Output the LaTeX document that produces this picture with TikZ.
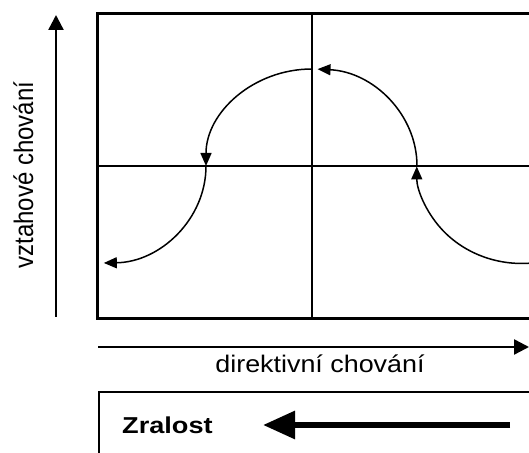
\documentclass[tikz,border=0pt]{standalone}
\usepackage{fontspec}
\setmainfont{Liberation Sans}
\usetikzlibrary{arrows.meta}
\begin{document}
\begin{tikzpicture}[x=1pt,y=1pt,
  frame/.style={line width=3pt},
  midv/.style={line width=2.6pt},
  midh/.style={line width=2pt},
  axis/.style={line width=2.4pt,-{Triangle[length=15pt,width=15pt]}},
  curve/.style={line width=1.5pt,-{Triangle[length=13pt,width=11pt]}},
  bigarrow/.style={line width=6pt,-{Triangle[length=32pt,width=27pt]}},
  lbl/.style={font=\fontsize{24}{28}\selectfont, inner sep=0pt}
]
\useasboundingbox (0,0) rectangle (529,452);
\clip (0,0) rectangle (529,452);
% main frame
\coordinate (TL) at (97,438);
\coordinate (BL) at (97,133);
\coordinate (TR) at (540,438);
\coordinate (BR) at (540,133);
\draw[frame] (TR) -- (TL) -- (BL) -- (BR);
% quadrant lines
\coordinate (VT) at (312,438);
\coordinate (VB) at (312,133);
\coordinate (HL) at (97,286);
\coordinate (HR) at (540,286);
\draw[midv] (VT) -- (VB);
\draw[midh] (HL) -- (HR);
% curve
\coordinate (C0) at (540,190);
\coordinate (X2) at (417,286);
\coordinate (Top) at (312,383);
\coordinate (X1) at (206,286);
\draw[curve] (C0) arc[start angle=-80, end angle=-180, x radius=105, y radius=97];
\draw[curve] (X2) arc[start angle=0, end angle=87, x radius=105, y radius=97];
\draw[curve] (Top) arc[start angle=90, end angle=180, x radius=106, y radius=97];
\draw[curve] (X1) arc[start angle=0, end angle=-89, x radius=104, y radius=97];
% axes
\coordinate (YA0) at (56,135);
\coordinate (YA1) at (56,437);
\draw[axis] (YA0) -- (YA1);
\coordinate (XA0) at (98,105);
\coordinate (XA1) at (529,105);
\draw[axis] (XA0) -- (XA1);
\node[lbl, rotate=90, anchor=base] (ylab) at (33,277) {\scalebox{1}[1.12]{vztahové chování}};
\node[lbl, anchor=base] (xlab) at (320,80) {\scalebox{1.12}[1]{direktivní chování}};
% bottom box
\coordinate (B0) at (99,-5);
\coordinate (B1) at (99,60);
\coordinate (B2) at (540,60);
\draw[line width=2.4pt] (B0) -- (B1) -- (B2);
\node[lbl, anchor=base west, font=\fontsize{23}{28}\selectfont\bfseries] (zr) at (122,19) {\scalebox{1.18}[1]{Zralost}};
\coordinate (A0) at (510,27);
\coordinate (A1) at (263,27);
\draw[bigarrow] (A0) -- (A1);
\end{tikzpicture}
\end{document}
